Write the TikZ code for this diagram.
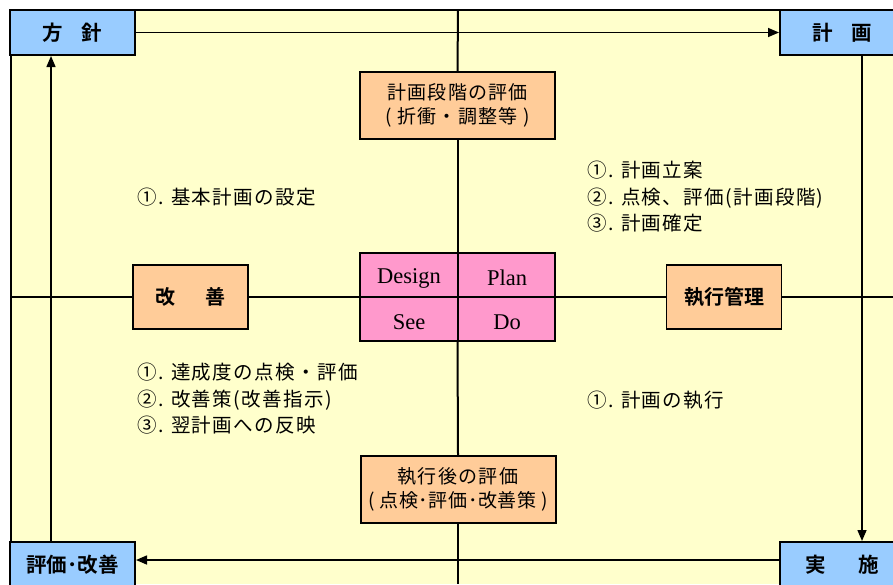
\documentclass[tikz,border=0pt]{standalone}
\usepackage{fontspec}
\usetikzlibrary{arrows.meta}
\newfontfamily\jp[LetterSpace=7]{Noto Sans CJK JP}
\newfontfamily\jpbold{Noto Sans CJK JP Bold}
\newfontfamily\tms{Liberation Serif}
\definecolor{bgyellow}{HTML}{FFFFCC}
\definecolor{boxblue}{HTML}{99CCFF}
\definecolor{boxorange}{HTML}{FFCC99}
\definecolor{boxpink}{HTML}{FF99CC}
\tikzset{
  bluebox/.style={draw=black, line width=2pt, fill=boxblue, inner sep=0pt,
    minimum width=125pt, minimum height=45pt, font=\fontsize{20.5}{24}\selectfont\jpbold},
  evalbox/.style={draw=black, line width=2pt, fill=boxorange, inner sep=0pt,
    minimum width=195pt, minimum height=67pt, align=center,
    font=\fontsize{19}{24}\selectfont\jp},
  midbox/.style={draw=black, line width=1.6pt, fill=boxorange, inner sep=0pt,
    minimum width=115pt, minimum height=64pt, font=\fontsize{20}{23}\selectfont\jpbold},
  pinkbox/.style={draw=black, line width=2pt, fill=boxpink, inner sep=0pt,
    minimum width=195pt, minimum height=88pt},
  celltext/.style={font=\fontsize{22.5}{24}\selectfont\tms, inner sep=0pt},
  listtext/.style={font=\fontsize{19.5}{26.5}\selectfont\jp, align=left, anchor=west, inner sep=0pt},
  axis/.style={line width=2pt},
  arr/.style={line width=1.5pt, -{Triangle[length=11pt,width=9pt]}}
}
\begin{document}
\begin{tikzpicture}[x=1pt,y=-1pt]
\useasboundingbox (0,0) rectangle (893,584);
\clip (0,0) rectangle (893,584);
\fill[white] (0,0) rectangle (893,584);
\fill[bgyellow] (11,10) rectangle (893,584);
\draw[line width=2pt] (11,584) -- (11,10) -- (893,10);

% axis end points
\coordinate (vtop) at (458,10);
\coordinate (vbot) at (458,584);
\coordinate (hleft) at (11,297);
\coordinate (hright) at (893,297);
\coordinate (lx) at (51,0);
\coordinate (rx) at (862,0);
\coordinate (by) at (0,560);

% nodes
\node[evalbox] (planeval) at (457.5,105.5) {計画段階の評価\\( 折衝・調整等 )};
\node[evalbox] (doeval) at (458,489.5) {執行後の評価\\{\addfontfeature{LetterSpace=3}( 点検･評価･改善策 )}};
\node[pinkbox] (pdca) at (457.5,297) {};
\node[midbox] (kaizen) at (190.5,297) {改\hspace{1.5em}善};
\node[midbox] (kanri) at (724,297) {執行管理};

% axes
\draw[axis] (vtop) -- (planeval.north);
\draw[axis] (planeval.south) -- (pdca.north);
\draw[axis] (pdca.south) -- (doeval.north);
\draw[axis] (doeval.south) -- (vbot);
\draw[axis] (hleft) -- (kaizen.west);
\draw[axis] (kaizen.east) -- (pdca.west);
\draw[axis] (pdca.east) -- (kanri.west);
\draw[axis] (kanri.east) -- (hright);
\draw[axis] (pdca.north) -- (pdca.south);
\draw[axis] (pdca.west) -- (pdca.east);

\node[celltext] (design) at (409,278) {Design};
\node[celltext] (plan) at (507,278) {Plan};
\node[celltext] (see) at (409,322) {See};
\node[celltext] (do) at (507,322) {Do};

% corner boxes
\node[bluebox] (hoshin) at (72.5,32.5) {方\hspace{0.9em}針};
\node[bluebox] (keikaku) at (842.5,32.5) {計\hspace{0.9em}画};
\node[bluebox] (hyoka) at (72.5,564.5) {評価･改善};
\node[bluebox] (jisshi) at (842.5,564.5) {実\hspace{1.6em}施};

% cycle arrows
\draw[arr] (hoshin.east) -- (keikaku.west);
\draw[arr] (keikaku.south -| rx) -- (jisshi.north -| rx);
\draw[arr] (jisshi.west |- by) -- (hyoka.east |- by);
\draw[arr] (hyoka.north -| lx) -- (hoshin.south -| lx);

% lists
\node[listtext] (l1) at (137,197) {①. 基本計画の設定};
\node[listtext] (r1) at (587,197) {①. 計画立案\\②. 点検、評価(計画段階)\\③. 計画確定};
\node[listtext] (l2) at (137,399) {①. 達成度の点検・評価\\②. 改善策(改善指示)\\③. 翌計画への反映};
\node[listtext] (r2) at (587,400) {①. 計画の執行};
\end{tikzpicture}
\end{document}
